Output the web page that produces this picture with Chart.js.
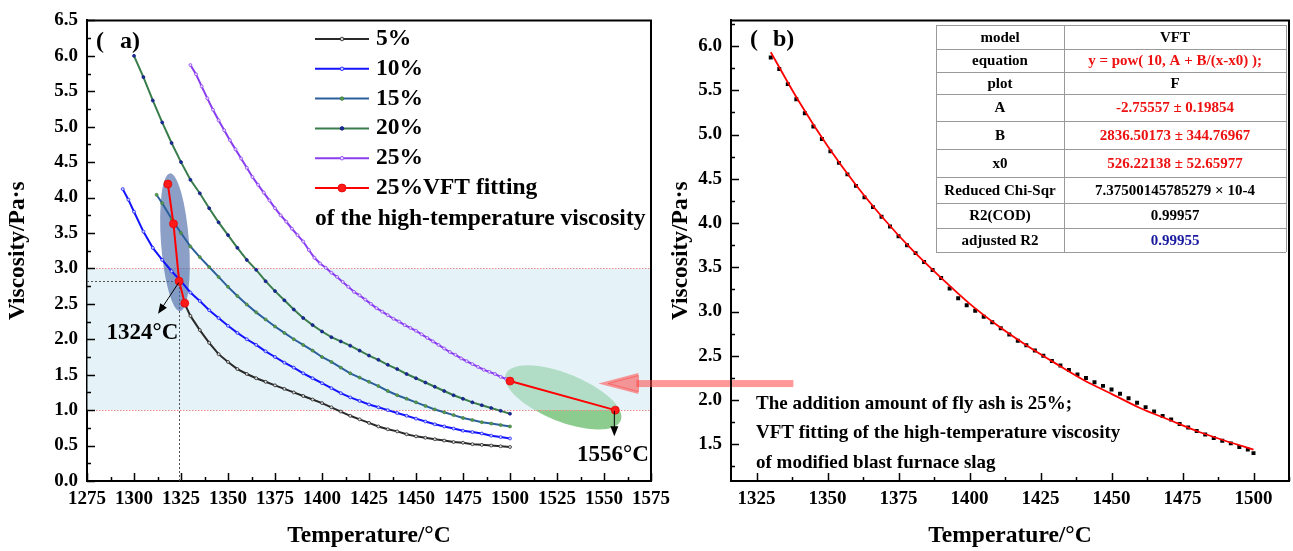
<!DOCTYPE html>
<html><head><meta charset="utf-8">
<script src="https://cdn.jsdelivr.net/npm/chart.js@4.4.1/dist/chart.umd.min.js"></script>
<style>
html,body{margin:0;padding:0;background:#fff;}
#wrap{position:relative;width:1293px;height:551px;overflow:hidden;}
canvas{position:absolute;left:0;top:0;}
</style></head><body>
<div id="wrap"><canvas id="ca" width="1293" height="551"></canvas><canvas id="cb" width="1293" height="551"></canvas></div>
<script>
const FAM = "'Liberation Serif','Times New Roman',serif";

// ---------- data ----------
const seriesNames = ['5%','10%','15%','20%','25%','25%VFT fitting'];

const temp5 = [1327,1330,1335,1340,1345,1350,1355,1360,1365,1370,1375,1380,1385,1390,1395,1400,1405,1410,1415,1420,1425,1430,1435,1440,1445,1450,1455,1460,1465,1470,1475,1480,1485,1490,1495,1500];
const visc5 = [2.50,2.33,2.13,1.95,1.79,1.68,1.58,1.51,1.45,1.40,1.35,1.30,1.25,1.20,1.15,1.10,1.04,0.98,0.92,0.87,0.82,0.77,0.73,0.70,0.66,0.63,0.61,0.59,0.57,0.55,0.54,0.52,0.51,0.50,0.49,0.48];

const temp10 = [1294,1297,1300,1305,1310,1315,1320,1325,1330,1335,1340,1345,1350,1355,1360,1365,1370,1375,1380,1385,1390,1395,1400,1405,1410,1415,1420,1425,1430,1435,1440,1445,1450,1455,1460,1465,1470,1475,1480,1485,1490,1495,1500];
const visc10 = [4.12,3.97,3.80,3.52,3.29,3.12,2.96,2.82,2.66,2.54,2.41,2.30,2.19,2.09,2.00,1.92,1.83,1.75,1.67,1.60,1.52,1.45,1.38,1.31,1.24,1.18,1.13,1.08,1.04,1.00,0.96,0.92,0.88,0.84,0.80,0.77,0.74,0.71,0.69,0.67,0.64,0.62,0.60];

const temp15 = [1312,1315,1320,1325,1330,1335,1340,1345,1350,1355,1360,1365,1370,1375,1380,1385,1390,1395,1400,1405,1410,1415,1420,1425,1430,1435,1440,1445,1450,1455,1460,1465,1470,1475,1480,1485,1490,1495,1500];
const visc15 = [4.04,3.92,3.70,3.50,3.31,3.16,3.02,2.88,2.74,2.61,2.49,2.38,2.28,2.18,2.09,2.00,1.92,1.84,1.75,1.68,1.60,1.52,1.46,1.40,1.34,1.27,1.21,1.16,1.11,1.06,1.01,0.97,0.93,0.89,0.86,0.83,0.81,0.79,0.77];

const temp20 = [1300,1305,1310,1315,1320,1325,1330,1335,1340,1345,1350,1355,1360,1365,1370,1375,1380,1385,1390,1395,1400,1405,1410,1415,1420,1425,1430,1435,1440,1445,1450,1455,1460,1465,1470,1475,1480,1485,1490,1495,1500];
const visc20 = [6.00,5.70,5.37,5.06,4.77,4.50,4.25,4.06,3.85,3.65,3.47,3.29,3.12,2.98,2.82,2.68,2.55,2.42,2.30,2.20,2.11,2.03,1.97,1.91,1.84,1.77,1.71,1.64,1.58,1.51,1.45,1.39,1.33,1.27,1.21,1.16,1.11,1.07,1.03,0.99,0.95];

const temp25 = [1330,1333,1336,1339,1342,1345,1348,1351,1354,1357,1360,1363,1366,1369,1372,1375,1378,1381,1384,1387,1390,1393,1396,1399,1402,1405,1408,1411,1414,1417,1420,1423,1426,1429,1432,1435,1438,1441,1444,1447,1450,1453,1456,1459,1462,1465,1468,1471,1474,1477,1480,1483,1486,1489,1492,1495,1498,1500];
const visc25 = [5.87,5.74,5.57,5.40,5.24,5.09,4.95,4.81,4.68,4.55,4.42,4.29,4.18,4.07,3.96,3.85,3.75,3.66,3.56,3.47,3.38,3.26,3.15,3.07,3.01,2.94,2.88,2.81,2.74,2.67,2.62,2.56,2.50,2.44,2.39,2.34,2.29,2.25,2.20,2.16,2.12,2.07,2.02,1.97,1.92,1.87,1.82,1.78,1.73,1.69,1.65,1.61,1.57,1.54,1.51,1.47,1.44,1.40];

// red VFT marks in panel (a); null breaks the line into two pieces
const tempVFTa = [1318,1321,1324,1327,1413,1500,1556];
const viscVFTa = [4.19,3.63,2.82,2.51,null,1.41,1.00];

// fitted curve
const tempFit = [1330,1340,1350,1360,1370,1380,1390,1400,1410,1420,1430,1440,1450,1460,1470,1480,1490,1500];
const viscFit = [5.93,5.37,4.87,4.43,4.04,3.69,3.38,3.09,2.84,2.62,2.42,2.23,2.07,1.91,1.78,1.65,1.54,1.44];

const xTicksA = [1275,1300,1325,1350,1375,1400,1425,1450,1475,1500,1525,1550,1575];
const xLabelsA = ['1275','1300','1325','1350','1375','1400','1425','1450','1475','1500','1525','1550','1575'];
const yTicksA = [0,0.5,1,1.5,2,2.5,3,3.5,4,4.5,5,5.5,6,6.5];
const yLabelsA = ['0.0','0.5','1.0','1.5','2.0','2.5','3.0','3.5','4.0','4.5','5.0','5.5','6.0','6.5'];
const xTicksB = [1325,1350,1375,1400,1425,1450,1475,1500];
const xLabelsB = ['1325','1350','1375','1400','1425','1450','1475','1500'];
const yTicksB = [1.5,2,2.5,3,3.5,4,4.5,5,5.5,6];
const yLabelsB = ['1.5','2.0','2.5','3.0','3.5','4.0','4.5','5.0','5.5','6.0'];

const tableRows = [
  ['model','VFT','#000'],
  ['equation','y = pow( 10, A + B/(x-x0) );','#ee1111'],
  ['plot','F','#000'],
  ['A','-2.75557 \u00b1 0.19854','#ee1111'],
  ['B','2836.50173 \u00b1 344.76967','#ee1111'],
  ['x0','526.22138 \u00b1 52.65977','#ee1111'],
  ['Reduced Chi-Sqr','7.37500145785279 \u00d7 10-4','#000'],
  ['R2(COD)','0.99957','#000'],
  ['adjusted R2','0.99955','#1a1aa0']
];
const noteLines = ['The addition amount of fly ash is 25%;','VFT fitting of the high-temperature viscosity','of modified blast furnace slag'];

// ---------- helpers ----------
const pts = (t, v) => t.map((x, i) => ({x: x, y: v[i]}));
const tickFont = {family: FAM, size: 19, weight: 'bold'};
const titleFont = {family: FAM, size: 23.5, weight: 'bold'};

function drawTicksFrame(chart, xt, yt) {
  const {ctx, chartArea: a, scales: {x, y}} = chart;
  ctx.save();
  ctx.strokeStyle = '#000';
  ctx.lineWidth = 1.5;
  ctx.beginPath();
  const xs = xt[1] - xt[0], ys = yt[1] - yt[0];
  const xm = [], ym = [];
  for (let v = xt[0] - xs; v <= xt[xt.length - 1] + xs; v += xs) { xm.push(v); xm.push(v + xs / 2); }
  for (let v = yt[0] - ys; v <= yt[yt.length - 1] + ys; v += ys) { ym.push(v); ym.push(v + ys / 2); }
  xm.forEach(v => {
    if (v < x.min - 1e-9 || v > x.max + 1e-9) return;
    const major = xt.some(t => Math.abs(t - v) < 1e-6);
    const px = Math.round(x.getPixelForValue(v)) + 0.5;
    ctx.moveTo(px, a.bottom); ctx.lineTo(px, a.bottom - (major ? 8 : 4));
  });
  ym.forEach(v => {
    if (v < y.min - 1e-9 || v > y.max + 1e-9) return;
    const major = yt.some(t => Math.abs(t - v) < 1e-6);
    const py = Math.round(y.getPixelForValue(v)) + 0.5;
    ctx.moveTo(a.left, py); ctx.lineTo(a.left + (major ? 8 : 4), py);
  });
  ctx.stroke();
  ctx.lineWidth = 2;
  ctx.beginPath();
  ctx.moveTo(a.left, a.top); ctx.lineTo(a.right, a.top); ctx.lineTo(a.right, a.bottom);
  ctx.stroke();
  ctx.restore();
}

function arrow(ctx, x1, y1, x2, y2, hl, hw, color) {
  const ang = Math.atan2(y2 - y1, x2 - x1);
  ctx.save();
  ctx.strokeStyle = color; ctx.fillStyle = color; ctx.lineWidth = 1;
  ctx.beginPath(); ctx.moveTo(x1, y1);
  ctx.lineTo(x2 - Math.cos(ang) * hl * 0.8, y2 - Math.sin(ang) * hl * 0.8); ctx.stroke();
  ctx.beginPath();
  ctx.moveTo(x2, y2);
  ctx.lineTo(x2 - Math.cos(ang) * hl - Math.sin(ang) * hw, y2 - Math.sin(ang) * hl + Math.cos(ang) * hw);
  ctx.lineTo(x2 - Math.cos(ang) * hl + Math.sin(ang) * hw, y2 - Math.sin(ang) * hl - Math.cos(ang) * hw);
  ctx.closePath(); ctx.fill();
  ctx.restore();
}

// ---------- panel (a) ----------
const panelA = {
  id: 'panelA',
  beforeDatasetsDraw(chart) {
    const {ctx, chartArea: a, scales: {x, y}} = chart;
    ctx.save();
    // green ellipse
    ctx.fillStyle = 'rgba(70,175,75,0.62)';
    ctx.beginPath();
    ctx.ellipse(x.getPixelForValue(1528.3), y.getPixelForValue(1.18), 62, 24, 22 * Math.PI / 180, 0, Math.PI * 2);
    ctx.fill();
    // shaded band 1.0 - 3.0
    ctx.fillStyle = 'rgba(208,234,242,0.55)';
    const y1 = y.getPixelForValue(3), y0 = y.getPixelForValue(1);
    ctx.fillRect(a.left, y1, a.right - a.left, y0 - y1);
    ctx.strokeStyle = '#f08a8a'; ctx.lineWidth = 1; ctx.setLineDash([1.5, 1.5]);
    ctx.beginPath();
    ctx.moveTo(a.left, Math.round(y1) + 0.5); ctx.lineTo(a.right, Math.round(y1) + 0.5);
    ctx.moveTo(a.left, Math.round(y0) + 0.5); ctx.lineTo(a.right, Math.round(y0) + 0.5);
    ctx.stroke();
    // guide lines at 1324 / 2.82
    ctx.strokeStyle = '#555'; ctx.setLineDash([2, 2]);
    const gx = Math.round(x.getPixelForValue(1324)) + 0.5, gy = Math.round(y.getPixelForValue(2.82)) + 0.5;
    ctx.beginPath();
    ctx.moveTo(gx, a.bottom); ctx.lineTo(gx, gy);
    ctx.moveTo(a.left, gy); ctx.lineTo(gx, gy);
    ctx.stroke();
    ctx.setLineDash([]);
    // blue ellipse
    ctx.fillStyle = 'rgba(70,100,165,0.62)';
    ctx.beginPath();
    ctx.ellipse(x.getPixelForValue(1321.8), y.getPixelForValue(3.37), 14, 69, -4.2 * Math.PI / 180, 0, Math.PI * 2);
    ctx.fill();
    ctx.restore();
  },
  afterDatasetsDraw(chart) {
    const {ctx, chartArea: a, scales: {x, y}} = chart;
    // annotation arrows
    arrow(ctx, x.getPixelForValue(1323.8), y.getPixelForValue(2.80), x.getPixelForValue(1312.8), y.getPixelForValue(2.36), 10, 4, '#000');
    arrow(ctx, x.getPixelForValue(1555.5), y.getPixelForValue(0.99), x.getPixelForValue(1555.5), y.getPixelForValue(0.63), 10, 4, '#000');
    ctx.save();
    ctx.fillStyle = '#000';
    ctx.font = 'bold 23px ' + FAM;
    ctx.textBaseline = 'middle'; ctx.textAlign = 'center';
    ctx.fillText('1324\u00b0C', x.getPixelForValue(1304.5), y.getPixelForValue(2.09));
    ctx.fillText('1556\u00b0C', x.getPixelForValue(1554.8), y.getPixelForValue(0.365));
    // panel label
    ctx.textAlign = 'left';
    ctx.font = 'bold 24px ' + FAM;
    ctx.fillText('(', a.left + 9, a.top + 21);
    ctx.fillText('a)', a.left + 33, a.top + 21);
    // legend
    const lx0 = 315, lx1 = 369, tx = 376, ly0 = 39, dy = 29.8;
    ctx.font = 'bold 23.5px ' + FAM;
    chart.data.datasets.forEach((ds, i) => {
      const yy = ly0 + i * dy;
      ctx.strokeStyle = ds.borderColor; ctx.lineWidth = 2;
      ctx.beginPath(); ctx.moveTo(lx0, yy); ctx.lineTo(lx1, yy); ctx.stroke();
      ctx.fillStyle = ds.pointBackgroundColor; ctx.strokeStyle = ds.pointBorderColor; ctx.lineWidth = 0.8;
      ctx.beginPath(); ctx.arc((lx0 + lx1) / 2, yy, i === 5 ? 4 : 1.8, 0, Math.PI * 2); ctx.fill(); ctx.stroke();
      ctx.fillStyle = '#000';
      ctx.fillText(ds.label, tx, yy);
    });
    ctx.fillText('of the high-temperature viscosity', lx0, ly0 + 6 * dy + 1);
    ctx.restore();
    drawTicksFrame(chart, xTicksA, yTicksA);
  },
  afterDraw(chart) {
    const {ctx, scales: {x, y}} = chart;
    // big pink arrow from panel (b) to panel (a)
    const tx = x.getPixelForValue(1547), ty = y.getPixelForValue(1.375);
    ctx.save();
    ctx.fillStyle = 'rgba(255,70,70,0.55)';
    ctx.fillRect(tx + 38, ty - 3.5, 157, 7);
    ctx.beginPath();
    ctx.moveTo(tx, ty); ctx.lineTo(tx + 40, ty - 10.5); ctx.lineTo(tx + 40, ty + 10.5); ctx.closePath();
    ctx.fill();
    ctx.strokeStyle = 'rgba(255,60,60,0.5)'; ctx.lineWidth = 1;
    ctx.beginPath();
    ctx.moveTo(tx + 10, ty); ctx.lineTo(tx + 40, ty - 8); ctx.lineTo(tx + 40, ty + 8); ctx.closePath();
    ctx.stroke();
    ctx.restore();
  }
};

const dsBase = {tension: 0, borderWidth: 2, pointRadius: 1.5, pointBorderWidth: 0.7, spanGaps: false};

new Chart(document.getElementById('ca'), {
  type: 'line',
  data: {
    datasets: [
      Object.assign({}, dsBase, {label: seriesNames[0], data: pts(temp5, visc5), borderColor: '#2a2a2a', pointBackgroundColor: '#d8d8d8', pointBorderColor: '#1a1a1a'}),
      Object.assign({}, dsBase, {label: seriesNames[1], data: pts(temp10, visc10), borderColor: '#1414ff', pointBackgroundColor: '#c4ccff', pointBorderColor: '#1414ff'}),
      Object.assign({}, dsBase, {label: seriesNames[2], data: pts(temp15, visc15), borderColor: '#2c5f9e', pointBackgroundColor: '#5c9a4c', pointBorderColor: '#3f7f3f'}),
      Object.assign({}, dsBase, {label: seriesNames[3], data: pts(temp20, visc20), borderColor: '#3a7d4c', pointBackgroundColor: '#1c2a9c', pointBorderColor: '#101a80'}),
      Object.assign({}, dsBase, {label: seriesNames[4], data: pts(temp25, visc25), borderColor: '#8a3ef0', pointBackgroundColor: '#e4d6ff', pointBorderColor: '#8a3ef0'}),
      Object.assign({}, dsBase, {label: seriesNames[5], data: pts(tempVFTa, viscVFTa), order: -1, borderColor: '#ff0000', borderWidth: 2, pointRadius: 4, pointBackgroundColor: '#ff1a1a', pointBorderColor: '#e00000'})
    ]
  },
  options: {
    responsive: false, animation: false, events: [],
    layout: {padding: {left: 0, top: 18, right: 642, bottom: 0}},
    plugins: {legend: {display: false}, tooltip: {enabled: false}},
    scales: {
      x: {
        type: 'linear', min: 1275, max: 1575,
        afterBuildTicks: s => { s.ticks = xTicksA.map(v => ({value: v})); },
        afterFit: s => { s.height = 70; },
        ticks: {autoSkip: false, maxRotation: 0, padding: 7, color: '#000', font: tickFont, callback: (v, i) => xLabelsA[i]},
        grid: {display: false, drawTicks: false},
        border: {display: true, color: '#000', width: 2},
        title: {display: true, text: 'Temperature/\u00b0C', color: '#000', font: titleFont, padding: {top: 0, bottom: 1}}
      },
      y: {
        type: 'linear', min: 0, max: 6.5,
        afterBuildTicks: s => { s.ticks = yTicksA.map(v => ({value: v})); },
        afterFit: s => { s.width = 87; },
        ticks: {autoSkip: false, padding: 9, color: '#000', font: tickFont, callback: (v, i) => yLabelsA[i]},
        grid: {display: false, drawTicks: false},
        border: {display: true, color: '#000', width: 2},
        title: {display: true, text: 'Viscosity/Pa\u00b7s', color: '#000', font: titleFont, padding: {top: 4, bottom: 0}}
      }
    }
  },
  plugins: [panelA]
});

// ---------- panel (b) ----------
const panelB = {
  id: 'panelB',
  afterDatasetsDraw(chart) {
    const {ctx, chartArea: a} = chart;
    ctx.save();
    ctx.fillStyle = '#000';
    ctx.textBaseline = 'middle';
    ctx.font = 'bold 24px ' + FAM;
    ctx.fillText('(', a.left + 19, a.top + 19);
    ctx.fillText('b)', a.left + 42, a.top + 19);
    // note
    ctx.font = 'bold 19px ' + FAM;
    noteLines.forEach((t, i) => ctx.fillText(t, 756, 404 + i * 29.5));
    // table
    const cx = [936, 1064, 1286];
    const ry = [25, 49, 72, 94, 121, 149, 177, 203, 228, 252];
    ctx.fillStyle = '#fff';
    ctx.fillRect(cx[0], ry[0], cx[2] - cx[0], ry[ry.length - 1] - ry[0]);
    ctx.strokeStyle = '#9a9a9a'; ctx.lineWidth = 1;
    ctx.beginPath();
    ry.forEach(v => { ctx.moveTo(cx[0], v + 0.5); ctx.lineTo(cx[2], v + 0.5); });
    cx.forEach(v => { ctx.moveTo(v + 0.5, ry[0]); ctx.lineTo(v + 0.5, ry[ry.length - 1]); });
    ctx.stroke();
    ctx.font = 'bold 15px ' + FAM;
    ctx.textAlign = 'center';
    tableRows.forEach((r, i) => {
      const yy = (ry[i] + ry[i + 1]) / 2 + 1;
      ctx.fillStyle = '#000';
      ctx.fillText(r[0], (cx[0] + cx[1]) / 2, yy);
      ctx.fillStyle = r[2];
      ctx.fillText(r[1], (cx[1] + cx[2]) / 2, yy);
    });
    ctx.restore();
    drawTicksFrame(chart, xTicksB, yTicksB);
  }
};

new Chart(document.getElementById('cb'), {
  type: 'line',
  data: {
    datasets: [
      {label: '25%', data: pts(temp25, visc25), showLine: false, pointStyle: 'rect', pointRadius: 2.8, pointBackgroundColor: '#000', pointBorderColor: '#000', pointBorderWidth: 0, borderColor: '#000'},
      {label: 'VFT fit', data: pts(tempFit, viscFit), order: -1, borderColor: '#ff0000', borderWidth: 1.8, pointRadius: 0, cubicInterpolationMode: 'monotone'}
    ]
  },
  options: {
    responsive: false, animation: false, events: [],
    layout: {padding: {left: 660, top: 18, right: 1, bottom: 0}},
    plugins: {legend: {display: false}, tooltip: {enabled: false}},
    scales: {
      x: {
        type: 'linear', min: 1316, max: 1512.5,
        afterBuildTicks: s => { s.ticks = xTicksB.map(v => ({value: v})); },
        afterFit: s => { s.height = 70; },
        ticks: {autoSkip: false, maxRotation: 0, padding: 7, color: '#000', font: tickFont, callback: (v, i) => xLabelsB[i]},
        grid: {display: false, drawTicks: false},
        border: {display: true, color: '#000', width: 2},
        title: {display: true, text: 'Temperature/\u00b0C', color: '#000', font: titleFont, padding: {top: 0, bottom: 1}}
      },
      y: {
        type: 'linear', min: 1.085, max: 6.29,
        afterBuildTicks: s => { s.ticks = yTicksB.map(v => ({value: v})); },
        afterFit: s => { s.width = 71; },
        ticks: {autoSkip: false, padding: 9, color: '#000', font: tickFont, callback: (v, i) => yLabelsB[i]},
        grid: {display: false, drawTicks: false},
        border: {display: true, color: '#000', width: 2},
        title: {display: true, text: 'Viscosity/Pa\u00b7s', color: '#000', font: titleFont, padding: {top: 7, bottom: 0}}
      }
    }
  },
  plugins: [panelB]
});
</script>
</body></html>
